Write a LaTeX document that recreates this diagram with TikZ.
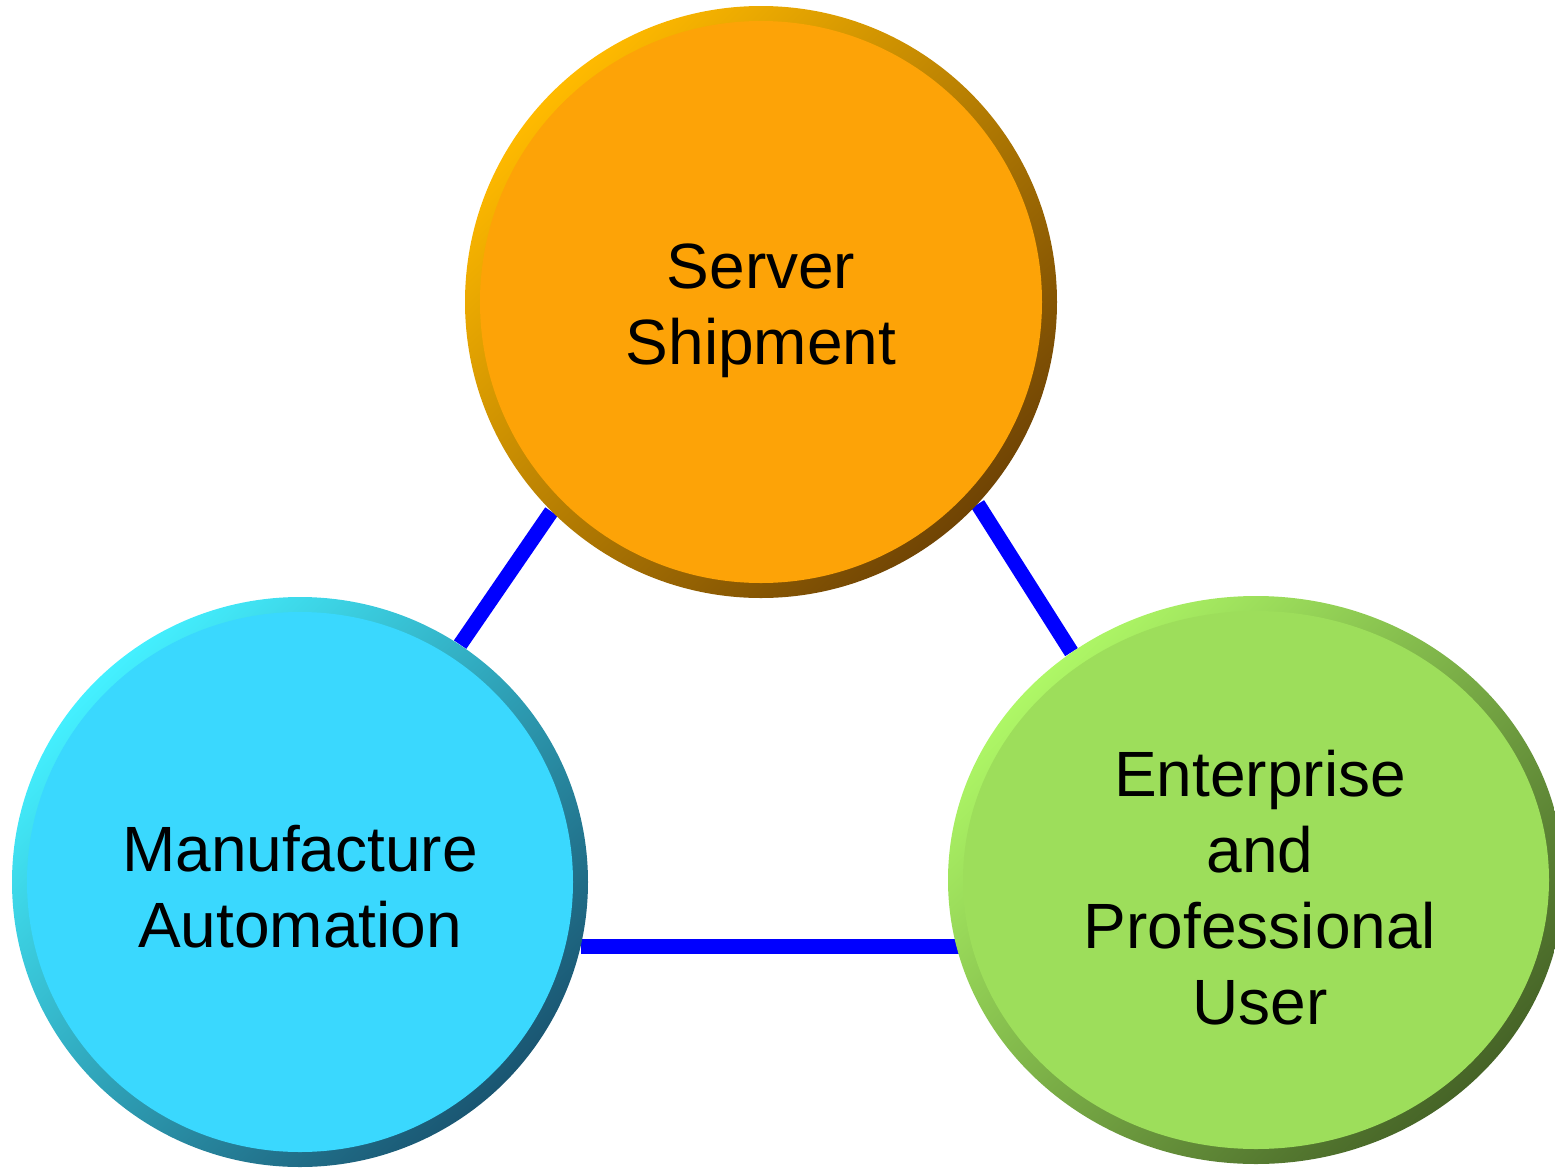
\documentclass[tikz,border=0pt]{standalone}
\usepackage{fontspec}
\setmainfont{Liberation Sans}
\usetikzlibrary{shapes.geometric,backgrounds}

\definecolor{shipfill}{HTML}{FDA307}
\definecolor{shiplight}{HTML}{FFBA00}
\definecolor{shipdark}{HTML}{704404}
\definecolor{manufill}{HTML}{3AD8FE}
\definecolor{manulight}{HTML}{44F0FF}
\definecolor{manudark}{HTML}{1A5672}
\definecolor{userfill}{HTML}{9DDE5B}
\definecolor{userlight}{HTML}{AEF766}
\definecolor{userdark}{HTML}{466427}

\tikzset{
  bubble/.style n args={5}{ellipse, inner sep=0pt, minimum width=#1, minimum height=#2,
    top color=#3, bottom color=#4, shading angle=45,
    path picture={\fill[#5] (path picture bounding box.center) ellipse [x radius=#1/2-7.5pt, y radius=#2/2-7.5pt];}},
  caption/.style={align=center, font=\fontsize{32}{38}\selectfont},
  link/.style={blue, line width=7.5pt}
}

\begin{document}
\begin{tikzpicture}[x=0.5pt, y=-0.5pt]
	\useasboundingbox (0,0) rectangle (1555,1168);

	\node[bubble={296pt}{296pt}{shiplight}{shipdark}{shipfill}] (ship) at (761,302) {};
	\node[bubble={288pt}{285pt}{manulight}{manudark}{manufill}] (manu) at (300,882) {};
	\node[bubble={308pt}{284pt}{userlight}{userdark}{userfill}] (user) at (1256,880) {};

	\begin{scope}[on background layer]
		\draw[link] (ship.225) -- (manu.56);
		\draw[link] (ship.317) -- (user.129);
		\draw[link] (manu.347) -- (manu.347 -| user.center);
	\end{scope}

	\node[caption] (shiptext) at (761,311) {Server\\Shipment};
	\node[caption] (manutext) at (300,887) {Manufacture\\Automation};
	\node[caption] (usertext) at (1260,888) {Enterprise\\and\\Professional\\User};
\end{tikzpicture}
\end{document}
